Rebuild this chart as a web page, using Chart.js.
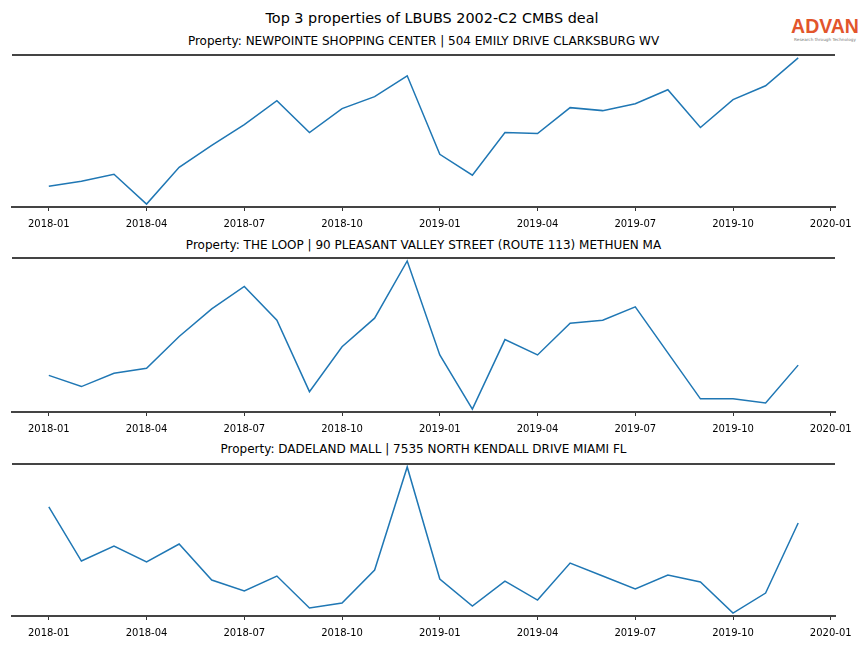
<!DOCTYPE html>
<html>
<head>
<meta charset="utf-8">
<script src="https://cdn.jsdelivr.net/npm/chart.js@4"></script>
<style>
  body { margin: 0; background: #fff; width: 864px; height: 648px; overflow: hidden; font-family: "DejaVu Sans", sans-serif; }
  .wrap { position: absolute; left: 0; width: 864px; }
  .title { position: absolute; left: 0; width: 864px; text-align: center; font-size: 14.4px; color: #000; }
  .sub { position: absolute; left: 0; width: 847px; text-align: center; font-size: 12px; color: #000; }
  .logo { position: absolute; left: 790px; top: 16px; width: 70px; text-align: center; }
  .logo .brand { font-family: "Liberation Sans", sans-serif; font-weight: bold; font-size: 19.5px; color: #e2552c; line-height: 21px; }
  .logo .tag { font-size: 4.2px; color: #777; line-height: 5px; white-space: nowrap; }
</style>
</head>
<body>
<div class="title" style="top:10px">Top 3 properties of LBUBS 2002-C2 CMBS deal</div>
<div class="logo"><div class="brand">ADVAN</div><div class="tag">Research through Technology</div></div>

<div class="sub" style="top:34px">Property: NEWPOINTE SHOPPING CENTER | 504 EMILY DRIVE CLARKSBURG WV</div>
<div class="wrap" style="top:50px"><canvas id="c1" width="864" height="187"></canvas></div>

<div class="sub" style="top:238px">Property: THE LOOP | 90 PLEASANT VALLEY STREET (ROUTE 113) METHUEN MA</div>
<div class="wrap" style="top:253px"><canvas id="c2" width="864" height="189"></canvas></div>

<div class="sub" style="top:442px">Property: DADELAND MALL | 7535 NORTH KENDALL DRIVE MIAMI FL</div>
<div class="wrap" style="top:459px"><canvas id="c3" width="864" height="187"></canvas></div>

<script>
// monthly categories
const months = [
    "2018-01", "2018-02", "2018-03", "2018-04", "2018-05", "2018-06",
    "2018-07", "2018-08", "2018-09", "2018-10", "2018-11", "2018-12",
    "2019-01", "2019-02", "2019-03", "2019-04", "2019-05", "2019-06",
    "2019-07", "2019-08", "2019-09", "2019-10", "2019-11", "2019-12",
];

// relative visit values (no y axis in the original)
const newpointe = [20, 25, 32, 2, 39, 61, 82, 106, 74, 98, 110, 131, 52, 31, 74, 73, 99, 96, 103, 117, 79, 107, 121, 149];
const theLoop = [36, 25, 38, 43, 74, 101, 123, 90, 20, 64, 92, 148, 56, 3, 71, 56, 87, 90, 103, 58, 13, 13, 9, 46];
const dadeland = [108, 54, 69, 53, 71, 35, 24, 39, 7, 12, 45, 148, 36, 9, 34, 15, 52, 39, 26, 40, 33, 2, 22, 92];

// x tick labels (quarterly), placed at month index
const tickLabels = ["2018-01", "2018-04", "2018-07", "2018-10", "2019-01", "2019-04", "2019-07", "2019-10", "2020-01"];
const tickIndex = [0, 3, 6, 9, 12, 15, 18, 21, 24];

const spineColor = "#444444";

// draws the top spine like matplotlib
const topSpine = {
    id: "topSpine",
    afterDraw(chart) {
        const { ctx, chartArea } = chart;
        ctx.save();
        ctx.strokeStyle = spineColor;
        ctx.lineWidth = 2;
        ctx.beginPath();
        ctx.moveTo(chartArea.left, chartArea.top);
        ctx.lineTo(chartArea.right, chartArea.top);
        ctx.stroke();
        ctx.restore();
    },
};

function makeChart(id, values) {
    const lo = Math.min(...values);
    const hi = Math.max(...values);
    const margin = (hi - lo) * 0.02;

    return new Chart(document.getElementById(id), {
        type: "line",
        data: {
            labels: months,
            datasets: [{
                data: values.map((v, i) => ({ x: i, y: v })),
                borderColor: "#1f77b4",
                borderWidth: 1.5,
                pointRadius: 0,
                tension: 0,
                fill: false,
            }],
        },
        options: {
            responsive: false,
            animation: false,
            devicePixelRatio: 1,
            layout: { padding: { left: 12, right: 29, top: 5, bottom: 0 } },
            plugins: { legend: { display: false }, tooltip: { enabled: false } },
            scales: {
                x: {
                    type: "linear",
                    min: -1.13,
                    max: 24.13,
                    afterBuildTicks: scale => {
                        scale.ticks = tickIndex.map(v => ({ value: v }));
                    },
                    ticks: {
                        autoSkip: false,
                        maxRotation: 0,
                        padding: 7,
                        color: "#000",
                        font: { family: "DejaVu Sans", size: 10 },
                        callback: value => tickLabels[tickIndex.indexOf(value)],
                    },
                    grid: {
                        drawOnChartArea: false,
                        drawTicks: true,
                        tickLength: 4,
                        color: "#333",
                    },
                    border: { display: true, color: spineColor, width: 2 },
                },
                y: {
                    display: false,
                    min: lo - margin,
                    max: hi + margin,
                },
            },
        },
        plugins: [topSpine],
    });
}

makeChart("c1", newpointe);
makeChart("c2", theLoop);
makeChart("c3", dadeland);
</script>
</body>
</html>
